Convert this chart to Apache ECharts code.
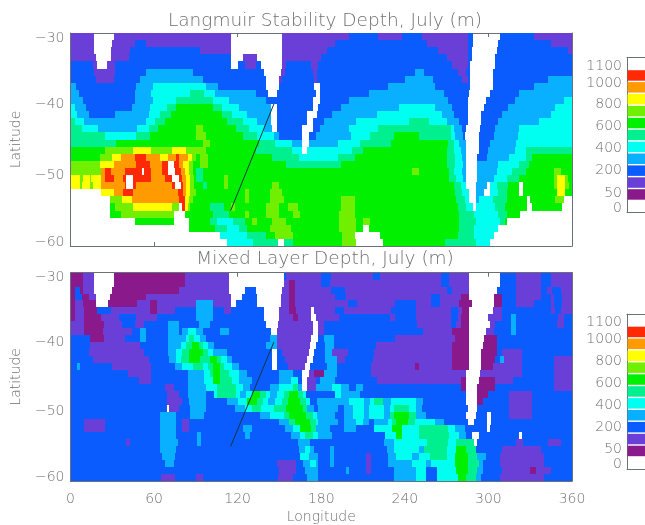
<!DOCTYPE html>
<html><head><meta charset="utf-8">
<style>html,body{margin:0;padding:0;background:#fff}#c{width:645px;height:525px}#c canvas{filter:blur(0.7px)}</style>
<script src="https://cdn.jsdelivr.net/npm/echarts@6/dist/echarts.min.js"></script>
</head><body><div id="c"></div>
<script>
// Depth classes: letter -> class value (m). w = no data / white.
const classLetters = ['p','v','b','s','c','t','g','l','y','o','r'];
const classValues  = [50,100,200,300,400,500,600,700,800,900,1000];
const classColors  = ['#8a1a8c','#6a3fd8','#0a5cff','#08b0ff','#00fff0','#00f090','#00f000','#70f000','#ffff00','#ff9a00','#ff2a05'];
const legendLabels = ['0','50','200','400','600','800','1000','1100'];
const lonTicks = [0,60,120,180,240,300,360];
const latTicks = [-60,-50,-40,-30];
const sectionLon = [115,146];
const sectionLat = [-55,-40];

// One string per 1-degree latitude row from -30 to -60: class letter + longitude where that class ends.
const lsdRows = [
"v17 w31 v115 w152 v200 b221 v238 b252 v285 b289 w308 b333 v360",
"v17 w30 v46 b54 v115 w152 v190 b256 v285 b289 w307 b345 v360",
"v17 w29 v43 b93 v115 w152 v184 b264 v285 b288 w306 b357 v360",
"v18 w29 v42 b115 w124 v134 w152 v180 b270 v285 b288 w305 b360",
"b16 v19 w26 v32 b115 w120 b125 v133 b137 w152 v155 b173 v178 b274 v285 b287 w305 b360",
"b17 v32 b54 s88 b139 w151 v154 b174 v177 b247 s254 b278 v284 b287 w303 b360",
"b18 v31 b50 s95 b140 w150 v152 b175 v177 b240 s260 b281 v285 b287 w303 b343 s360",
"s4 b47 s59 c97 s106 b140 w150 b175 w179 b228 s262 b287 w303 b333 s360",
"s6 b46 s58 c86 t96 c104 s133 b142 w148 b176 w179 b214 s268 b286 w301 b322 s360",
"s9 b46 s59 c76 t102 c114 s140 b174 w179 b200 s271 b285 w298 b319 s354 c360",
"c3 s11 b44 s57 c69 t76 g102 t109 c121 s144 w148 b174 w178 b194 s236 c262 s274 b285 w297 b314 s348 c360",
"c5 s13 b32 s56 c64 t72 g109 t116 c127 s144 w148 b170 w177 b188 s220 c267 s275 b285 w295 b310 s345 c360",
"t3 c10 s54 c61 t68 g112 t124 c134 s144 w148 b170 w174 b182 s205 c243 t257 c270 s279 b285 w295 b307 s336 c360",
"t8 c20 s48 c56 t63 g90 l95 g119 t128 c139 s145 w148 b166 w174 b179 s200 c221 t273 c275 s281 b284 w294 b305 s322 c360",
"t25 c47 t57 g90 l97 g124 t134 c146 s150 b166 w171 b176 s201 c215 t232 g250 t273 c276 s282 b283 w293 b304 s321 c360",
"t33 g95 l100 g135 t147 c159 s166 w171 s192 c208 t230 g271 t275 c279 s284 w293 b301 s320 c360",
"g25 l45 y58 l73 y83 l97 g133 t159 c166 w170 c202 t210 g270 t275 c280 s284 w293 b300 s319 c327 t360",
"g21 l30 y36 o46 r54 o64 y70 o76 r78 o84 y87 l90 g93 l99 g145 t164 c192 t204 g270 t276 c281 s284 w292 b299 s315 c327 t331 g360",
"l21 y31 o47 r57 o66 r70 w74 r78 o81 y85 l88 g93 l99 g155 t194 g270 t276 c282 s284 w292 s307 c322 t329 g360",
"l22 o25 r29 o39 r51 w53 r58 o66 r70 w75 r79 o82 y85 l88 g90 t95 g245 l250 g272 t275 c281 s284 w292 s306 c317 t327 g347 l352 g360",
"y7 l9 y14 l15 y22 o25 r31 o38 r40 w45 r58 o68 r73 w78 r80 o83 y86 l89 g90 t95 g110 l113 g272 t277 c282 s284 w292 s304 c313 t322 g347 l349 y355 l357 g360",
"y7 l8 y14 l16 y22 o39 r40 w45 r47 o73 r75 w79 r81 o83 y86 l89 g95 t98 g110 l113 g145 l150 g275 t280 c284 w291 s299 w301 c306 t314 g322 w325 g347 l349 y355 l358 g360",
"w22 y31 o38 r45 o77 r81 o83 y86 l90 g125 l128 g143 l152 g276 t281 c286 w291 s297 w301 c307 t313 g322 w325 g349 y355 g360",
"w28 l37 y44 o78 r82 y85 l88 g125 l128 g143 l153 g194 l204 g277 t283 c286 w291 s293 c303 t313 g328 w330 g348 l354 w360",
"w28 g32 l45 y73 l78 w80 r82 y84 l86 g100 t110 g115 l118 g140 l150 g156 l163 g194 l204 g278 t284 c289 w291 c305 t312 g328 w331 g353 w360",
"w28 g36 l74 w82 g102 t114 g125 l128 g140 l150 g160 l165 g193 l204 g279 t290 c307 t313 g323 w360",
"w46 g74 w85 g100 t105 c117 t125 g130 l134 g145 l155 g193 l205 g210 l215 g279 t291 c308 t312 g313 w360",
"w85 g104 t112 c121 t127 g143 l158 g193 l205 g210 w214 g279 t290 c307 w360",
"w107 c127 t140 g147 l160 g195 l204 w222 g278 t290 c304 w360",
"w112 c131 t149 w153 t160 g195 l205 w224 g269 t291 c301 w360"
];
const mldRows = [
"p9 v17 w31 p82 v114 w153 b155 v180 b187 v217 b222 v266 b272 v286 w308 b320 v338 b345 v360",
"p9 v17 w31 p82 v114 w153 v157 p161 v180 b186 v266 b272 v286 w308 b320 v338 b345 v360",
"p3 b7 p9 v17 w30 p78 v114 w125 b133 w152 v157 p161 v187 b197 v270 b274 v286 w306 b320 v338 b342 v346 b352 v360",
"p3 b8 p13 v18 w28 p54 v115 w123 b134 w151 v157 p161 v190 b198 v259 b265 v280 p286 w304 p310 b320 v338 b345 v347 b353 v360",
"p3 v9 p18 w27 p48 v57 p62 v90 s102 v115 w119 b134 w151 v157 p161 v199 b206 v233 b248 v259 b265 v279 p288 w304 p310 b320 v333 b345 v347 b353 v360",
"p3 v10 p19 b29 v57 p62 v75 b90 s102 b110 v115 b139 w150 v157 p162 v173 w175 v190 b196 v230 b248 v273 b278 v281 p286 w303 v310 b345 v348 b352 v360",
"p3 v10 p22 v35 b47 v62 b90 s102 b139 w150 v160 p163 v173 w176 v193 b229 v233 b248 v273 b278 v280 p286 w300 v310 b316 s320 b350 v354 b360",
"v10 p24 v37 b46 v53 b70 s78 b92 s100 b140 w149 v174 w178 v182 b249 v273 b277 v280 p286 w301 v305 b316 s320 b349 v354 b360",
"v10 p23 v44 b50 s54 b70 s78 b80 s84 c90 s95 b107 s114 b144 w148 v174 w178 v182 b253 v274 p286 w298 v304 b316 s320 b360",
"b14 p24 v39 b50 s54 b70 s83 c85 t89 c93 s97 b143 s148 v173 w178 b182 s189 b233 v276 p286 w297 p306 b360",
"b14 v50 b70 s79 c83 t87 g92 t95 c99 s103 b140 s148 v172 w176 b183 s189 b219 v274 p286 w296 p306 b360",
"b13 v53 b70 s76 c80 t85 g95 t99 c102 s112 b145 w148 b152 v171 w175 b183 s188 v199 b218 v274 p286 w295 p306 b310 v324 b360",
"b16 v56 b71 s76 c79 t85 g93 t100 g105 t108 c112 s116 b145 w148 b154 v170 w174 b183 s191 v197 b217 v274 p286 w295 p305 b308 s311 v324 b347 v360",
"b5 s7 b30 v58 b75 s80 c88 t95 c99 t102 g107 t110 c116 s121 b145 w148 b156 v168 w172 b184 s191 b216 v247 p250 v274 p286 w295 p303 v324 b347 v360",
"b41 v58 b84 s96 c100 t102 g107 t114 c121 s127 b150 s160 b166 w171 v175 p182 s191 b216 v284 w294 v324 b347 v360",
"b49 v58 b84 s96 c102 g107 t116 c121 s130 b150 s158 c163 b166 w170 v176 b179 s190 b220 v280 p284 w293 p305 v318 b347 v360",
"b68 v74 b84 s97 c105 t119 c124 s129 b143 s150 c160 t163 s166 w170 v176 s188 c194 s200 b205 s210 b280 p284 w292 p305 b347 v360",
"b69 v78 b84 s97 b103 c105 t119 c122 s126 c130 g136 t140 c143 s148 c153 t157 g163 t167 c169 b190 c194 s208 b284 w292 p300 b315 v331 b360",
"b69 v80 b85 s97 b112 s120 c127 g134 t138 c142 s147 c152 t156 g165 t169 c172 b177 s200 c211 s215 c218 t224 s230 c248 s253 b284 w292 p296 b315 v331 b360",
"b69 w71 v78 b86 s97 b118 s125 c130 t137 c146 t155 g167 t170 s175 b178 s192 b196 s203 c211 s214 c225 s229 c232 t243 c248 s252 b285 w292 b315 v331 b360",
"b64 s76 b86 s96 b136 s143 c153 t157 g169 t174 c177 s190 b196 s203 c211 s214 c225 s229 t232 g243 t248 s255 b284 w291 b299 w302 b315 v331 b360",
"b10 v25 b64 s76 b80 v85 b150 s157 t161 g172 t176 c178 s192 b196 s205 c210 s214 b218 s228 c231 t234 g242 t247 c262 s268 b285 w290 b299 w302 b360",
"b10 v25 b64 s76 b80 v85 b124 s130 b154 s160 c165 g173 t176 s186 b196 s205 b218 c231 g238 c250 t271 c276 s283 b299 w301 b360",
"b64 s76 b91 s94 b125 s129 b158 s165 c168 t174 c178 s188 b226 c234 g238 c250 t272 c279 s284 b288 w293 b322 w324 b360",
"b40 v43 b64 s77 b91 s94 b163 s172 b225 s232 c256 t271 c277 t290 w292 b320 v325 b343 v352 b360",
"b64 s76 b164 s168 c172 s175 b186 s189 b227 s232 c250 s254 t270 c277 g284 t291 b310 v338 b360",
"b66 s75 b165 c171 s178 b186 s189 b212 v216 b228 s234 c245 s250 c258 t270 c276 g285 t292 s298 b308 v340 b360",
"b68 s74 b148 v162 b167 s172 c176 s178 b186 s189 b212 v216 b228 s245 c255 s259 c276 g285 t293 s296 b308 v340 b360",
"b150 v162 b168 s178 b198 s200 b212 v216 b232 s248 c255 b263 c277 g285 t292 s296 b310 v330 p334 v345 b360",
"b65 v75 b90 v95 b149 v160 b170 s178 b232 s248 c255 b263 c278 g284 t291 s295 b308 v340 b360"
];

function cells(rows){
  const out=[];
  rows.forEach((row,i)=>{
    let from=0;
    row.split(' ').forEach(tok=>{
      const end=+tok.slice(1), k=classLetters.indexOf(tok[0]);
      if(k>=0) out.push([from,end,-30-i,-31-i,k]);
      from=end;
    });
  });
  return out;
}
const TXT='#707070', AX='#6a6f78', FONT='"DejaVu Sans"', FS=14, FW=200;
function renderCell(p,api){
  const a=api.coord([api.value(0),api.value(2)]), b=api.coord([api.value(1),api.value(3)]);
  const x=Math.round(a[0]), y=Math.round(a[1]);
  return {type:'rect',shape:{x,y,width:Math.round(b[0])-x,height:Math.round(b[1])-y},
    style:{fill:classColors[api.value(4)]}};
}
function latLabel(v){
  const s='\u2212'+Math.abs(v);
  return v===-30?'{t|'+s+'}':v===-60?'{b|'+s+'}':'{m|'+s+'}';
}
const lt={fontSize:FS,color:TXT,fontFamily:FONT,fontWeight:FW};
const latRich={t:Object.assign({padding:[10,0,0,0]},lt),b:Object.assign({padding:[0,0,8,0]},lt),m:lt};

const grids=[
 {left:70.5,width:501.5,top:33,height:213},
 {left:70.5,width:501.5,top:272.7,height:209},
 {left:627,right:-10,top:57.6,height:154.7},
 {left:627,right:-10,top:314.1,height:154.7}
];
const xAxes=[],yAxes=[],series=[];
[0,1].forEach(g=>{
  const base={type:'value',gridIndex:g,min:0,max:360,interval:60,splitLine:{show:false},
    axisLine:{onZero:false,lineStyle:{color:AX,width:1}},axisTick:{inside:true,length:4,lineStyle:{color:AX}}};
  xAxes.push(Object.assign({},base,{position:'bottom',
    axisLabel:Object.assign({show:g===1,margin:11,formatter:v=>lonTicks.includes(v)?String(v):''},lt),
    name:g===1?'Longitude':'',nameLocation:'middle',nameGap:29,nameTextStyle:Object.assign({},lt)}));
  xAxes.push(Object.assign({},base,{position:'top',axisLabel:{show:false}}));
  const ybase={type:'value',gridIndex:g,min:-60,max:-30,interval:10,splitLine:{show:false},
    axisLine:{onZero:false,lineStyle:{color:AX,width:1}},axisTick:{inside:true,length:7,lineStyle:{color:AX}}};
  yAxes.push(Object.assign({},ybase,{position:'left',
    axisLabel:Object.assign({margin:6,formatter:latLabel,rich:latRich},lt),
    name:'Latitude',nameLocation:'middle',nameGap:47,nameRotate:90,nameTextStyle:Object.assign({},lt)}));
  yAxes.push(Object.assign({},ybase,{position:'right',axisLabel:{show:false}}));
  series.push({type:'custom',coordinateSystem:'cartesian2d',xAxisIndex:g*2,yAxisIndex:g*2,
    data:cells(g===0?lsdRows:mldRows),encode:{x:[0,1],y:[2,3]},renderItem:renderCell,clip:true,silent:true,z:2});
  series.push({type:'line',xAxisIndex:g*2,yAxisIndex:g*2,data:sectionLon.map((x,i)=>[x,sectionLat[i]]),
    symbol:'none',lineStyle:{color:'#14343c',width:1},silent:true,z:3});
});
// Colour key panels
const legendPos=[0.35,1.6,3.5,5.34,7.18,9.03,10.85,12.3];
[2,3].forEach(g=>{
  xAxes.push({type:'value',gridIndex:g,min:0,max:1,position:'bottom',splitLine:{show:false},axisTick:{show:false},axisLabel:{show:false},
    axisLine:{onZero:false,lineStyle:{color:AX}}});
  xAxes.push({type:'value',gridIndex:g,min:0,max:1,position:'top',splitLine:{show:false},axisTick:{show:false},axisLabel:{show:false},
    axisLine:{onZero:false,lineStyle:{color:AX}}});
  yAxes.push({type:'value',gridIndex:g,min:0,max:13,position:'left',splitLine:{show:false},axisTick:{show:false},
    axisLine:{onZero:false,lineStyle:{color:AX}},
    axisLabel:Object.assign({customValues:legendPos,margin:5,
      formatter:v=>legendLabels[legendPos.indexOf(v)]},lt)});
  yAxes.push({type:'value',gridIndex:g,min:0,max:13,position:'right',show:false});
  const xi=xAxes.length-2, yi=yAxes.length-2;
  series.push({type:'custom',coordinateSystem:'cartesian2d',xAxisIndex:xi,yAxisIndex:yi,
    data:classValues.map((v,i)=>[0,1,i+1,i+2,i]),encode:{x:[0,1],y:[2,3]},renderItem:(p,api)=>{
      const a=api.coord([0,api.value(3)]), b=api.coord([1,api.value(2)]);
      return {type:'rect',shape:{x:a[0]+0.5,y:a[1]+0.7,width:b[0]-a[0],height:b[1]-a[1]-1.4},style:{fill:classColors[api.value(4)]}};
    },silent:true,z:2});
});
const chart=echarts.init(document.getElementById('c'),null,{renderer:'canvas'});
const titleStyle={color:TXT,fontSize:18.5,fontWeight:FW,fontFamily:FONT};
chart.setOption({
  animation:false,backgroundColor:'#fff',
  title:[
    {text:'Langmuir Stability Depth, July (m)',left:320,top:7,textAlign:'center',textStyle:titleStyle},
    {text:'Mixed Layer Depth, July (m)',left:320,top:245,textAlign:'center',textStyle:titleStyle}
  ],
  grid:grids,xAxis:xAxes,yAxis:yAxes,series
});
</script></body></html>
